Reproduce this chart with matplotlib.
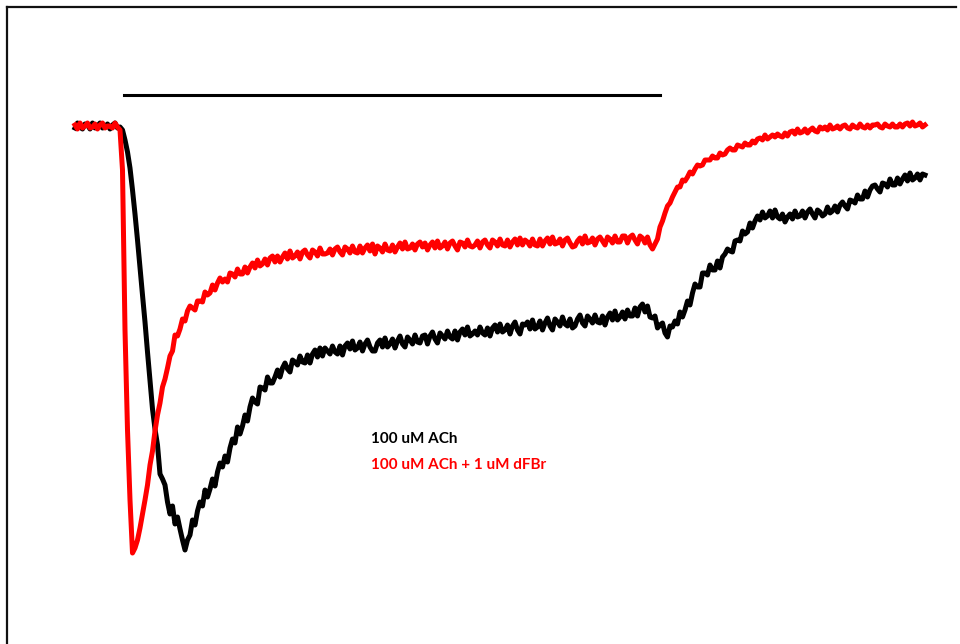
import matplotlib

matplotlib.use('Agg')

import numpy as np
import matplotlib.pyplot as plt
from matplotlib.lines import Line2D

# whole-cell currents (pA), one row per second, sampled every 50 ms
dt = 0.05

ach_only = [
    -20, 30, -10, -30, 20, 10, -30, 30, -20, 0, 30, -20, -10, 20, -30, 10, 30, -20, -10, -40,
    -140, -260, -420, -640, -880, -1140, -1420, -1690, -1960, -2260, -2540, -2830, -3030, -3190, -3480, -3530, -3590, -3760, -3880, -3800,
    -3980, -3910, -4030, -4140, -4240, -4140, -4090, -3940, -3990, -3850, -3760, -3800, -3640, -3710, -3630, -3530, -3600, -3460, -3370, -3410,
    -3300, -3360, -3220, -3130, -3170, -3010, -3080, -3000, -2890, -2950, -2810, -2720, -2760, -2780, -2610, -2620, -2640, -2510, -2570, -2570,
    -2510, -2440, -2510, -2420, -2370, -2430, -2460, -2340, -2360, -2390, -2300, -2360, -2370, -2290, -2370, -2280, -2240, -2310, -2220, -2300,
    -2220, -2250, -2280, -2200, -2260, -2280, -2200, -2290, -2200, -2170, -2230, -2150, -2240, -2220, -2160, -2250, -2180, -2140, -2210, -2250,
    -2250, -2170, -2140, -2210, -2120, -2210, -2180, -2130, -2220, -2150, -2100, -2180, -2210, -2110, -2140, -2180, -2090, -2160, -2170, -2100,
    -2090, -2180, -2100, -2060, -2130, -2170, -2070, -2100, -2130, -2050, -2110, -2130, -2050, -2140, -2060, -2030, -2090, -2010, -2100, -2080,
    -2050, -2090, -2010, -2070, -2090, -2020, -2100, -2020, -1990, -2060, -1980, -2060, -2040, -1990, -2080, -2000, -1960, -2040, -2080, -1980,
    -1990, -1960, -2030, -1940, -2030, -2010, -1950, -2040, -1970, -1920, -2000, -2040, -1930, -1960, -2000, -1910, -1980, -2000, -1930, -2020,
    -2000, -1930, -1890, -1970, -2000, -1900, -1930, -1970, -1890, -1960, -1970, -1900, -1990, -1910, -1870, -1940, -1850, -1940, -1910, -1860,
    -1930, -1840, -1900, -1900, -1820, -1900, -1810, -1780, -1860, -1800, -1910, -1920, -1900, -2020, -1990, -1970, -2070, -2110, -2000, -2010,
    -1950, -1980, -1860, -1910, -1840, -1750, -1790, -1670, -1580, -1610, -1610, -1470, -1470, -1490, -1390, -1440, -1440, -1350, -1420, -1310,
    -1280, -1230, -1250, -1260, -1150, -1140, -1150, -1050, -1080, -1060, -970, -1020, -950, -900, -940, -860, -920, -900, -850, -920,
    -840, -910, -930, -880, -960, -910, -880, -930, -850, -910, -900, -850, -920, -860, -830, -880, -920, -840, -860, -900,
    -880, -810, -870, -850, -800, -860, -790, -760, -800, -830, -740, -750, -770, -690, -730, -730, -650, -710, -640, -600,
    -590, -630, -660, -570, -580, -610, -530, -590, -590, -520, -580, -530, -490, -550, -470, -540, -520, -480, -540, -480,
    -490,
]

ach_dfbr = [
    10, -30, 30, -20, 0, 30, -20, -10, 20, -30, 10, 30, -20, 0, 0, -20, 30, -10, -40, -440,
    -2040, -3040, -3740, -4270, -4220, -4140, -4020, -3880, -3740, -3590, -3390, -3250, -3050, -2890, -2770, -2610, -2530, -2420, -2300, -2250,
    -2090, -2100, -2030, -1930, -1950, -1850, -1800, -1820, -1840, -1750, -1750, -1760, -1660, -1690, -1670, -1590, -1640, -1570, -1520, -1560,
    -1530, -1560, -1470, -1480, -1510, -1430, -1480, -1480, -1410, -1470, -1410, -1370, -1420, -1340, -1400, -1380, -1330, -1390, -1320, -1300,
    -1360, -1300, -1360, -1310, -1270, -1330, -1250, -1320, -1300, -1260, -1330, -1260, -1240, -1290, -1320, -1240, -1260, -1300, -1220, -1280,
    -1280, -1270, -1230, -1290, -1230, -1210, -1260, -1290, -1210, -1230, -1270, -1200, -1260, -1270, -1200, -1270, -1220, -1190, -1250, -1180,
    -1280, -1200, -1220, -1260, -1180, -1240, -1250, -1190, -1260, -1210, -1170, -1230, -1160, -1230, -1220, -1180, -1240, -1180, -1160, -1210,
    -1170, -1240, -1190, -1160, -1220, -1150, -1220, -1200, -1160, -1230, -1170, -1150, -1200, -1240, -1160, -1170, -1210, -1140, -1200, -1210,
    -1190, -1150, -1220, -1160, -1140, -1190, -1220, -1140, -1160, -1200, -1130, -1190, -1200, -1140, -1210, -1160, -1130, -1190, -1120, -1190,
    -1140, -1160, -1200, -1130, -1190, -1200, -1130, -1200, -1150, -1120, -1180, -1110, -1180, -1170, -1130, -1200, -1140, -1120, -1170, -1210,
    -1200, -1150, -1120, -1180, -1100, -1170, -1160, -1120, -1190, -1130, -1110, -1150, -1190, -1110, -1130, -1170, -1100, -1160, -1160, -1100,
    -1100, -1170, -1110, -1090, -1140, -1180, -1100, -1120, -1170, -1110, -1190, -1230, -1180, -1130, -1010, -950, -870, -800, -770, -710,
    -660, -610, -610, -540, -550, -510, -460, -480, -430, -390, -400, -390, -340, -340, -340, -300, -320, -320, -270, -290,
    -280, -240, -220, -240, -240, -190, -200, -210, -170, -190, -190, -150, -170, -130, -120, -140, -90, -130, -110, -90,
    -110, -80, -100, -110, -70, -100, -60, -50, -80, -30, -70, -60, -30, -70, -40, -20, -50, -60, -10, -30,
    -10, -40, 10, -30, -20, 0, -30, 0, 10, -20, -30, 10, -10, -20, 20, -10, -20, 10, -20, 10,
    10, 20, -10, -20, 20, 0, -10, 20, -10, -10, 20, -10, 20, 30, 0, 40, 0, 10, 30, -10,
    10,
]

# ACh application (s) and the bar marking it
ach_start = 0.98
ach_end = 11.7
bar_level = 310

labels = ['100 uM ACh', '100 uM ACh + 1 uM dFBr']
colors = ['black', '#ff0000']

t = np.arange(len(ach_only)) * dt

fig = plt.figure(figsize=(9.6, 6.44), dpi=100)
ax = fig.add_axes([0, 0, 1, 1])

ax.plot(t, ach_only, color=colors[0], lw=3.6)
ax.plot(t, ach_dfbr, color=colors[1], lw=3.6)
ax.plot([ach_start, ach_end], [bar_level, bar_level], color='black', lw=2.2)

ax.text(5.92, -3130, labels[0], color=colors[0], fontsize=11,
        fontweight='bold', family='Lato', va='center', ha='left')
ax.text(5.92, -3390, labels[1], color=colors[1], fontsize=11,
        fontweight='bold', family='Lato', va='center', ha='left')

ax.set_xlim(-1.5, 17.7)
ax.set_ylim(-5180, 1260)
ax.axis('off')

# border round the panel (top and left edges only)
fig.add_artist(Line2D([0.0075, 0.0075], [0, 0.989], color='#111111',
                      lw=1.6, transform=fig.transFigure))
fig.add_artist(Line2D([0.0075, 0.996], [0.989, 0.989], color='#111111',
                      lw=1.6, transform=fig.transFigure))

fig.savefig('out.png', dpi=100)
